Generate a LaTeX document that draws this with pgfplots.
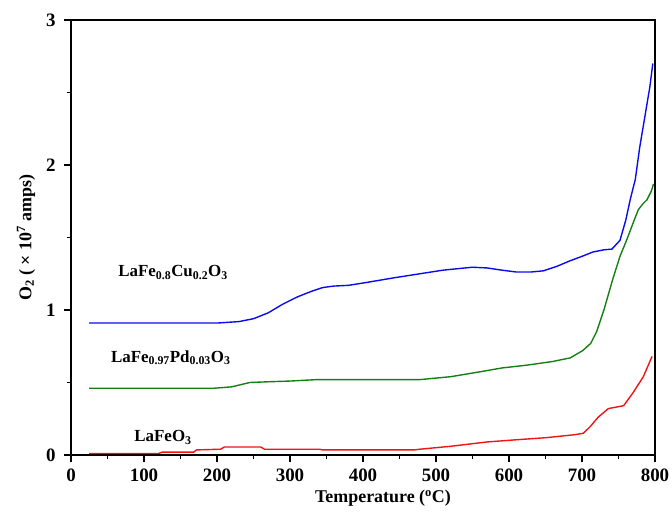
\documentclass[border=0pt]{standalone}
\usepackage{fontspec}
\setmainfont{Liberation Serif}
\usepackage{pgfplots}
\pgfplotsset{compat=1.18}
\definecolor{cblue}{RGB}{10,10,240}
\definecolor{cgreen}{RGB}{20,128,20}
\definecolor{cred}{RGB}{240,20,20}
\begin{document}
\begin{tikzpicture}
\begin{axis}[
  name=ax, at={(0,0)}, anchor=south west,
  scale only axis, width=584bp, height=435bp,
  xmin=0, xmax=800, ymin=0, ymax=3,
  xtick={0,100,...,800}, ytick={0,1,2,3},
  xticklabels={0,100,200,300,400,500,600,700,800},
  yticklabels={0,1,2,3},
  minor tick num=1,
  tick pos=left, tick align=outside,
  major tick length=7bp, minor tick length=4bp,
  every tick/.style={black, line width=1.1pt},
  axis line style={line width=1.3pt},
  ticklabel style={font=\bfseries\fontsize{19}{19}\selectfont},
  xticklabel style={yshift=-3bp},
  yticklabel style={xshift=-5bp},
  xlabel={\bfseries Temperature (\textsuperscript{o}C)},
  ylabel={\bfseries O\textsubscript{2} ( × 10\textsuperscript{7} amps)},
  label style={font=\bfseries\fontsize{18}{18}\selectfont},
  xlabel style={yshift=-2bp, xshift=20bp},
  ylabel style={yshift=4bp},
  clip=false,
]
\addplot[cblue, line width=1.4pt] coordinates {
(25,0.91) (100,0.91) (200,0.91) (215,0.915) (230,0.92) (250,0.94) (270,0.98) (290,1.04) (310,1.09) (330,1.13) (345,1.155) (360,1.165) (380,1.17) (405,1.19) (440,1.22) (478,1.25) (510,1.275) (550,1.295) (570,1.29) (590,1.275) (610,1.262) (630,1.262) (647,1.27) (665,1.30) (684,1.34) (700,1.37) (715,1.40) (730,1.415) (741,1.42) (752,1.48) (760,1.62) (766,1.76) (773,1.90) (779,2.12) (786,2.33) (793,2.54) (797,2.70)
};
\addplot[cgreen, line width=1.4pt] coordinates {
(25,0.46) (100,0.46) (195,0.46) (220,0.47) (245,0.50) (270,0.505) (300,0.51) (337,0.52) (400,0.52) (478,0.52) (520,0.54) (556,0.57) (590,0.60) (625,0.62) (660,0.645) (684,0.67) (701,0.72) (712,0.77) (720,0.85) (730,1.0) (742,1.21) (752,1.37) (761,1.48) (770,1.60) (777,1.69) (783,1.73) (789,1.76) (795,1.82) (798,1.87)
};
\addplot[cred, line width=1.4pt] coordinates {
(25,0.01) (120,0.01) (125,0.02) (168,0.02) (172,0.035) (205,0.04) (210,0.055) (260,0.055) (265,0.04) (340,0.04) (345,0.035) (470,0.035) (478,0.04) (520,0.06) (570,0.09) (610,0.105) (652,0.12) (690,0.14) (702,0.15) (712,0.2) (722,0.26) (736,0.32) (757,0.34) (770,0.43) (784,0.54) (796,0.68)
};
\node[anchor=west, font=\bfseries\fontsize{17}{17}\selectfont] at (axis cs:60,1.26) {LaFe\textsubscript{0.8}Cu\textsubscript{0.2}O\textsubscript{3}};
\node[anchor=west, font=\bfseries\fontsize{17}{17}\selectfont] at (axis cs:50,0.67) {LaFe\textsubscript{0.97}Pd\textsubscript{0.03}O\textsubscript{3}};
\node[anchor=west, font=\bfseries\fontsize{17}{17}\selectfont] at (axis cs:82,0.12) {LaFeO\textsubscript{3}};
\end{axis}
\pgfresetboundingbox
\path[use as bounding box] (-71bp,-60bp) rectangle (601bp,455bp);
\end{tikzpicture}
\end{document}
